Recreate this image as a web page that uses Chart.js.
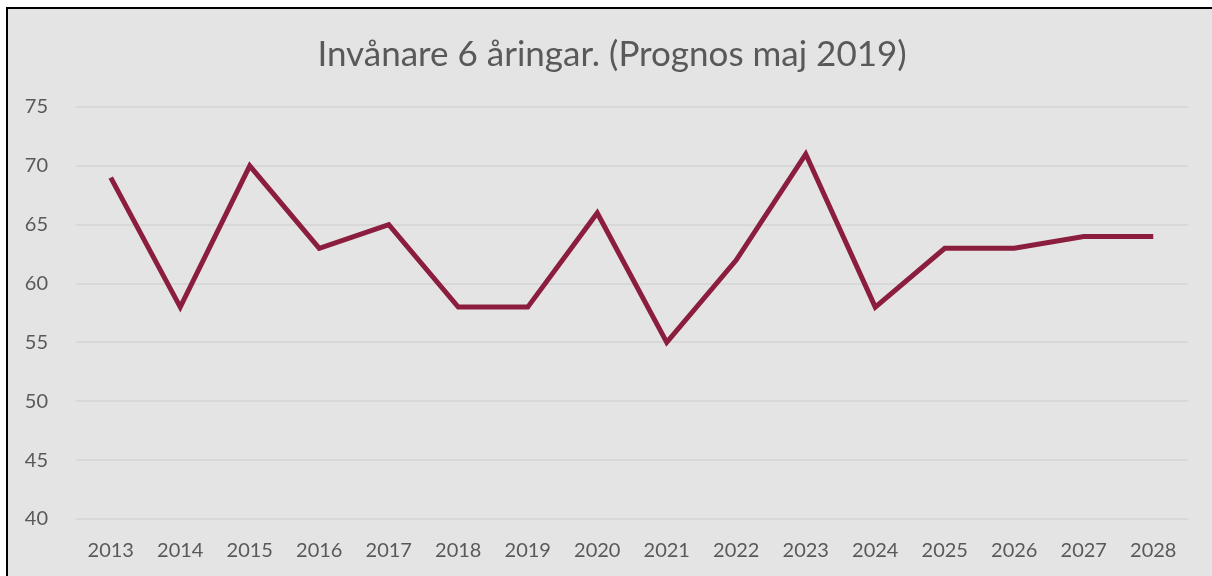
<!DOCTYPE html>
<html>
<head>
<meta charset="utf-8">
<script src="https://cdn.jsdelivr.net/npm/chart.js@4"></script>
<style>
  html, body { margin: 0; padding: 0; background: #ffffff; overflow: hidden; }
  #frame {
    position: absolute; left: 6px; top: 7px;
    width: 1210px; height: 575px;
    border-left: 2px solid #000; border-top: 2px solid #000;
    background: #e4e4e4;
  }
  #wrap { position: absolute; left: 0; top: 0; width: 1204px; height: 567px; }
</style>
</head>
<body>
<div id="frame"><div id="wrap"><canvas id="myChart"></canvas></div></div>
<script>
const years = ["2013","2014","2015","2016","2017","2018","2019","2020","2021","2022","2023","2024","2025","2026","2027","2028"];
const invanare = [69, 58, 70, 63, 65, 58, 58, 66, 55, 62, 71, 58, 63, 63, 64, 64];
const titel = "Invånare 6 åringar. (Prognos maj 2019)";
const yMin = 40;
const yMax = 75;
const yStep = 5;

const textColor = "#595959";
const fontName = "Lato, 'Open Sans', sans-serif";

const config = {
  type: "line",
  data: {
    labels: years,
    datasets: [
      {
        label: "Invånare",
        data: invanare,
        borderColor: "#8b1e3f",
        borderWidth: 5,
        pointRadius: 0,
        tension: 0,
        borderJoinStyle: "miter",
        yAxisID: "y"
      }
    ]
  },
  options: {
    responsive: true,
    maintainAspectRatio: false,
    animation: false,
    layout: { padding: { left: 4, right: 0, top: 0, bottom: 1 } },
    plugins: {
      legend: { display: false },
      tooltip: { enabled: false },
      title: {
        display: true,
        text: titel,
        color: textColor,
        font: { family: fontName, size: 35, weight: "normal" },
        padding: { top: 25, bottom: 31 }
      }
    },
    scales: {
      x: {
        offset: true,
        grid: { display: false },
        border: { display: false },
        ticks: {
          color: textColor,
          font: { family: fontName, size: 20 },
          maxRotation: 0,
          padding: 12
        }
      },
      y: {
        min: yMin,
        max: yMax,
        grid: { color: "#d8d8d8", lineWidth: 2, drawTicks: false },
        border: { display: false },
        ticks: {
          stepSize: yStep,
          color: textColor,
          font: { family: fontName, size: 20 },
          padding: 28
        },
        afterFit: (scale) => { scale.width = 64; }
      },
      // tom axel till höger, bara för marginalen
      yRight: {
        position: "right",
        min: yMin,
        max: yMax,
        grid: { display: false },
        border: { display: false },
        ticks: { display: false },
        afterFit: (scale) => { scale.width = 24; }
      }
    }
  }
};

const myChart = document.getElementById("myChart");
new Chart(myChart, config);
</script>
</body>
</html>
